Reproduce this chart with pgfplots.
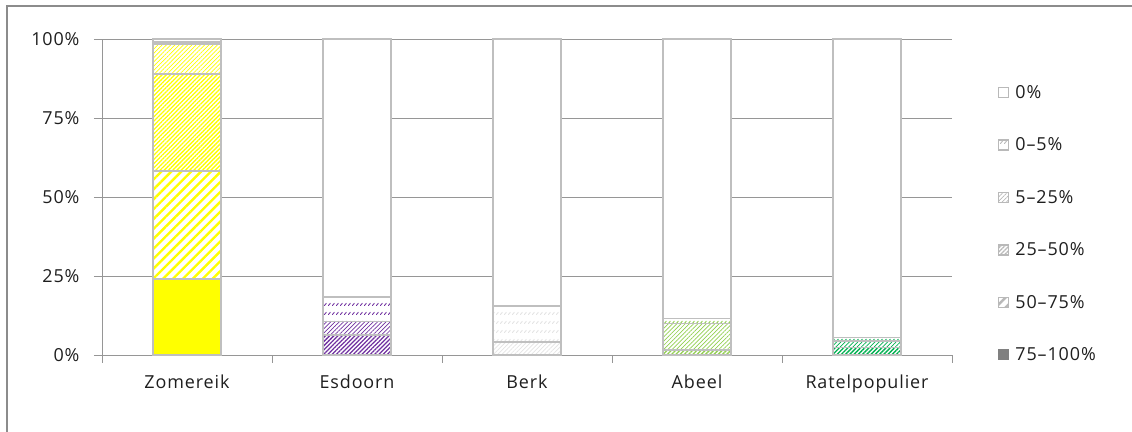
\documentclass[border=0pt]{standalone}
\usepackage{fontspec}
\setmainfont{Open Sans}[LetterSpace=5]
\usepackage{pgfplots}
\pgfplotsset{compat=1.18}
\usetikzlibrary{patterns,patterns.meta}

\definecolor{zom}{RGB}{255,255,0}
\definecolor{esd}{RGB}{112,48,160}
\definecolor{berk}{RGB}{228,228,228}
\definecolor{abeel}{RGB}{146,208,80}
\definecolor{ratel}{RGB}{0,176,80}
\definecolor{barline}{RGB}{191,191,191}
\definecolor{gridc}{RGB}{150,150,150}
\definecolor{legc}{RGB}{185,185,185}
\definecolor{framec}{RGB}{140,140,140}
\definecolor{txt}{RGB}{30,30,30}

\pgfdeclarepattern{
  name=dashdiag, type=uncolored,
  bottom left={\pgfpoint{0bp}{0bp}},
  top right={\pgfpoint{4bp}{9bp}},
  tile size={\pgfpoint{4bp}{9bp}},
  code={\pgfsetlinewidth{1bp}\pgfpathmoveto{\pgfpoint{0bp}{0bp}}\pgfpathlineto{\pgfpoint{3bp}{3bp}}\pgfusepath{stroke}}
}

\tikzset{
  lvA/.style={fill=#1},
  lvB/.style={preaction={fill=white}, pattern={Lines[angle=45,distance=7bp,line width=2.4bp]}, pattern color=#1},
  lvC/.style={preaction={fill=white}, pattern={Lines[angle=45,distance=3bp,line width=1.3bp]}, pattern color=#1},
  lvD/.style={preaction={fill=white}, pattern={Lines[angle=45,distance=3bp,line width=0.7bp]}, pattern color=#1},
  lvE/.style={preaction={fill=white}, pattern=dashdiag, pattern color=#1},
  lvF/.style={fill=white},
}

\pgfplotsset{
  base/.style={width=850bp, height=316bp, scale only axis,
    xmin=-0.5, xmax=4.5, ymin=0, ymax=100,
    at={(102bp,77bp)}, anchor=south west, clip=false},
  cat/.style={base, hide axis, ybar stacked, bar width=68bp,
    every axis plot/.append style={draw=barline, line width=1.6bp}},
}

\begin{document}
\begin{tikzpicture}
\path[use as bounding box] (0,0) rectangle (1132bp,432bp);
\draw[framec, line width=1.5bp] (7bp,0) -- (7bp,426bp) -- (1132bp,426bp);

\begin{axis}[base,
  font=\fontsize{18}{21}\selectfont\color{txt},
  axis x line=bottom, axis y line=left,
  axis line style={-, draw=gridc, line width=0.8bp},
  ytick={0,25,50,75,100},
  yticklabels={0\%,25\%,50\%,75\%,100\%},
  ymajorgrids, grid style={draw=gridc, line width=0.8bp},
  xtick={0,1,2,3,4},
  xticklabels={Zomereik,Esdoorn,Berk,Abeel,Ratelpopulier},
  minor xtick={-0.5,0.5,1.5,2.5,3.5,4.5},
  tick align=outside,
  major tick length=8bp, minor tick length=8bp,
  tick style={draw=gridc, line width=0.8bp},
  major x tick style={draw=none},
  yticklabel style={xshift=-11bp},
  xticklabel style={yshift=-8bp},
  legend cell align=left,
  legend style={at={(1.05,0.416)}, anchor=west, draw=none, fill=none,
    row sep=34bp, font=\fontsize{18}{21}\selectfont\color{txt}},
  legend image code/.code={\draw[#1, line width=1bp] (0bp,-5bp) rectangle (10bp,5bp); \path (14bp,0bp);},
]
\addlegendimage{draw=legc, fill=white}
\addlegendimage{draw=legc, lvE=legc}
\addlegendimage{draw=legc, lvD=legc}
\addlegendimage{draw=legc, lvC=legc}
\addlegendimage{draw=legc, lvB=legc}
\addlegendimage{draw=gray, fill=gray}
\legend{0\%,0--5\%,5--25\%,25--50\%,50--75\%,75--100\%}
\end{axis}

% Zomereik
\begin{axis}[cat]
\addplot[lvA=zom] coordinates {(0,24.0)};
\addplot[lvB=zom] coordinates {(0,34.3)};
\addplot[lvC=zom] coordinates {(0,30.6)};
\addplot[lvD=zom] coordinates {(0,9.6)};
\addplot[lvE=zom] coordinates {(0,0.6)};
\addplot[lvF] coordinates {(0,0.9)};
\end{axis}
% Esdoorn
\begin{axis}[cat]
\addplot[lvA=esd] coordinates {(1,0)};
\addplot[lvB=esd] coordinates {(1,0)};
\addplot[lvC=esd] coordinates {(1,6.3)};
\addplot[lvD=esd] coordinates {(1,4.3)};
\addplot[lvE=esd] coordinates {(1,7.7)};
\addplot[lvF] coordinates {(1,81.7)};
\end{axis}
% Berk
\begin{axis}[cat]
\addplot[lvA=berk] coordinates {(2,0)};
\addplot[lvB=berk] coordinates {(2,0)};
\addplot[lvC=berk] coordinates {(2,0)};
\addplot[lvD=berk] coordinates {(2,4.2)};
\addplot[lvE=berk] coordinates {(2,11.3)};
\addplot[lvF] coordinates {(2,84.5)};
\end{axis}
% Abeel
\begin{axis}[cat]
\addplot[lvA=abeel] coordinates {(3,0)};
\addplot[lvB=abeel] coordinates {(3,0)};
\addplot[lvC=abeel] coordinates {(3,1.5)};
\addplot[lvD=abeel] coordinates {(3,8.5)};
\addplot[lvE=abeel] coordinates {(3,1.5)};
\addplot[lvF] coordinates {(3,88.5)};
\end{axis}
% Ratelpopulier
\begin{axis}[cat]
\addplot[lvA=ratel] coordinates {(4,0)};
\addplot[lvB=ratel] coordinates {(4,0)};
\addplot[lvC=ratel] coordinates {(4,2.4)};
\addplot[lvD=ratel] coordinates {(4,2.1)};
\addplot[lvE=ratel] coordinates {(4,1.0)};
\addplot[lvF] coordinates {(4,94.5)};
\end{axis}
\end{tikzpicture}
\end{document}
